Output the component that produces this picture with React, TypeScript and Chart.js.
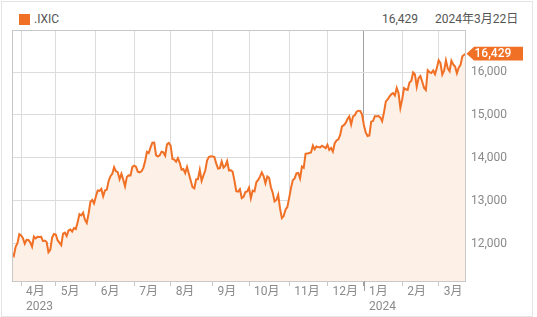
import React, { useEffect, useRef } from "react";
import { Chart, registerables } from "chart.js";

Chart.register(...registerables);

// NASDAQ Composite (.IXIC) daily closes, 2023-03-27 .. 2024-03-22
const mar2023 = [11768.84, 11716.08, 11926.24, 12013.47, 12221.91];
const apr2023 = [12189.45, 12126.33, 11996.86, 12087.96, 12084.35, 12031.88, 11929.34, 12166.27, 12123.47, 12157.72, 12153.41, 12157.23, 12059.56, 12072.46, 12037.2, 11799.16, 11854.35, 12142.24, 12226.58];
const may2023 = [12212.6, 12080.51, 12025.33, 11966.4, 12235.41, 12256.92, 12179.55, 12306.44, 12328.51, 12284.74, 12365.21, 12343.05, 12500.57, 12688.84, 12657.9, 12720.78, 12560.25, 12484.16, 12698.09, 12975.69, 13017.43, 12935.29];
const jun2023 = [13100.98, 13240.77, 13229.43, 13276.42, 13104.9, 13238.52, 13259.14, 13461.92, 13573.32, 13626.48, 13782.82, 13689.57, 13667.29, 13502.2, 13630.61, 13492.52, 13335.78, 13555.67, 13591.75, 13591.33, 13787.92];
const jul2023 = [13816.77, 13791.65, 13679.04, 13660.72, 13685.48, 13760.7, 13918.96, 14138.57, 14113.7, 14244.95, 14353.64, 14358.02, 14063.31, 14032.81, 14058.87, 14144.56, 14127.28, 14050.11, 14316.66, 14346.02];
const aug2023 = [14283.91, 13973.45, 13959.72, 13909.24, 13994.4, 13884.32, 13722.02, 13737.99, 13644.85, 13788.33, 13631.05, 13474.63, 13316.93, 13290.78, 13497.59, 13505.87, 13721.03, 13463.97, 13590.65, 13705.13, 13943.76, 14019.31, 14034.97];
const sep2023 = [14031.81, 14020.95, 13872.47, 13748.83, 13761.53, 13917.89, 13773.61, 13813.59, 13926.05, 13708.34, 13710.24, 13678.19, 13469.13, 13223.98, 13211.81, 13271.32, 13063.61, 13092.85, 13201.28, 13219.32];
const oct2023 = [13307.77, 13059.47, 13236.01, 13219.83, 13431.34, 13484.24, 13562.84, 13659.68, 13574.22, 13407.23, 13567.98, 13533.75, 13314.3, 13186.18, 12983.81, 13018.33, 13139.88, 12821.22, 12595.61, 12643.01, 12789.48, 12851.24];
const nov2023 = [13061.47, 13294.19, 13478.28, 13518.78, 13639.86, 13650.41, 13521.45, 13798.11, 13767.74, 14094.38, 14103.84, 14113.67, 14125.48, 14284.53, 14199.98, 14265.86, 14250.85, 14241.02, 14281.76, 14258.49, 14226.22];
const dec2023 = [14305.03, 14185.49, 14229.91, 14146.71, 14339.99, 14403.97, 14432.49, 14533.4, 14733.96, 14761.56, 14813.92, 14904.81, 14963.87, 14777.94, 14963.87, 14992.97, 15074.57, 15099.18, 15095.14, 15011.35];
const jan2024 = [14765.94, 14592.21, 14510.3, 14524.07, 14843.77, 14857.71, 14969.65, 14970.19, 14972.76, 14944.35, 14855.62, 15055.65, 15310.97, 15360.29, 15425.94, 15481.92, 15510.5, 15455.36, 15628.04, 15509.9, 15164.01];
const feb2024 = [15361.64, 15628.95, 15597.68, 15582.18, 15756.64, 15793.72, 15990.66, 15942.55, 15655.6, 15859.15, 15906.17, 15775.65, 15630.78, 15580.87, 16041.62, 15996.82, 15976.25, 16035.3, 15947.74, 16091.92];
const mar2024 = [16274.94, 16207.51, 15939.59, 16031.54, 16273.38, 16085.11, 16019.27, 16265.64, 16177.77, 16128.53, 15973.17, 16103.45, 16166.79, 16369.41, 16401.84, 16428.82];

const monthSeries = [mar2023, apr2023, may2023, jun2023, jul2023, aug2023, sep2023, oct2023, nov2023, dec2023, jan2024, feb2024, mar2024];
const monthLabels = ["4月", "5月", "6月", "7月", "8月", "9月", "10月", "11月", "12月", "1月", "2月", "3月"];
const yearLabels = ["2023", "", "", "", "", "", "", "", "", "2024", "", ""];
const yTicks = [12000, 13000, 14000, 15000, 16000];
const yMin = 11130;
const yMax = 16980;
const symbol = ".IXIC";
const dateLabel = "2024年3月22日";

const closes: number[] = monthSeries.flat();
const monthStarts: number[] = [];
{
  let acc = 0;
  for (let i = 0; i < monthSeries.length - 1; i++) {
    acc += monthSeries[i].length;
    monthStarts.push(acc);
  }
}
const yearStartIdx = monthStarts[yearLabels.indexOf("2024")];
const lastValue = closes[closes.length - 1];
const fmt = (v: number) => Math.round(v).toLocaleString("en-US");

const ORANGE = "#F07026";
const FILL = "#FDF0E6";
const FONT = "Roboto, 'Noto Sans CJK JP', sans-serif";

export default function App() {
  const ref = useRef<HTMLCanvasElement>(null);
  useEffect(() => {
    const decor = {
      id: "decor",
      afterDraw(chart: any) {
        const { ctx, chartArea, scales } = chart;
        const { left, right, top, bottom } = chartArea;
        ctx.save();
        // frame
        ctx.strokeStyle = "#c8c8c8";
        ctx.lineWidth = 1;
        ctx.strokeRect(left + 0.5, top + 0.5, right - left - 1, bottom - top);
        // year tick
        const xj = Math.round(scales.x.getPixelForValue(yearStartIdx)) + 0.5;
        ctx.strokeStyle = "#a0a0a0";
        ctx.beginPath();
        ctx.moveTo(xj, bottom);
        ctx.lineTo(xj, bottom + 10);
        ctx.stroke();
        // callout
        const y = scales.y.getPixelForValue(lastValue);
        const x = right;
        ctx.fillStyle = ORANGE;
        ctx.beginPath();
        ctx.moveTo(x + 0.5, y);
        ctx.lineTo(x + 8, y - 6.8);
        ctx.lineTo(x + 57, y - 6.8);
        ctx.lineTo(x + 57, y + 6.8);
        ctx.lineTo(x + 8, y + 6.8);
        ctx.closePath();
        ctx.fill();
        ctx.fillStyle = "#ffffff";
        ctx.font = `500 12px ${FONT}`;
        ctx.textAlign = "left";
        ctx.textBaseline = "middle";
        ctx.fillText(fmt(lastValue), x + 8.5, y + 0.5);
        ctx.restore();
      },
    };

    const chart = new Chart(ref.current!, {
      type: "line",
      data: {
        labels: closes.map((_, i) => i),
        datasets: [
          {
            data: closes.map((v, i) => ({ x: i, y: v })),
            borderColor: ORANGE,
            borderWidth: 2,
            backgroundColor: FILL,
            fill: "start",
            pointRadius: 0,
            tension: 0,
          },
        ],
      },
      options: {
        responsive: false,
        animation: false,
        devicePixelRatio: 1,
        layout: { padding: { left: 12, top: 30, right: 0, bottom: 0 } },
        plugins: { legend: { display: false }, tooltip: { enabled: false } },
        scales: {
          x: {
            type: "linear",
            min: 0,
            max: closes.length - 1,
            afterBuildTicks: (s: any) => {
              s.ticks = monthStarts.map((v) => ({ value: v }));
            },
            afterFit: (s: any) => {
              s.height = 36;
            },
            border: { display: false },
            grid: {
              color: (c: any) => (c.tick && c.tick.value === yearStartIdx ? "#a0a0a0" : "#dcdcdc"),
              tickColor: (c: any) => (c.tick && c.tick.value === yearStartIdx ? "#a0a0a0" : "#c8c8c8"),
              tickLength: 5,
              drawTicks: true,
            },
            ticks: {
              autoSkip: false,
              maxRotation: 0,
              align: "start",
              labelOffset: 5,
              padding: -1,
              color: "#8a8a8a",
              font: { family: FONT, size: 12, lineHeight: 1.2 },
              callback: (v: any) => {
                const i = monthStarts.indexOf(Number(v));
                if (i < 0) return "";
                return yearLabels[i] ? [monthLabels[i], yearLabels[i]] : monthLabels[i];
              },
            },
          },
          y: {
            position: "right",
            min: yMin,
            max: yMax,
            afterBuildTicks: (s: any) => {
              s.ticks = yTicks.map((v) => ({ value: v }));
            },
            afterFit: (s: any) => {
              s.width = 71;
            },
            border: { display: false },
            grid: { color: "#dcdcdc", drawTicks: false },
            ticks: {
              padding: 5,
              color: "#8a8a8a",
              font: { family: FONT, size: 12 },
              callback: (v: any) => fmt(Number(v)),
            },
          },
        },
      },
      plugins: [decor],
    } as any);
    return () => chart.destroy();
  }, []);

  return (
    <div style={{ position: "absolute", left: 0, top: 0, width: 537, height: 317, fontFamily: FONT }}>
      <div
        style={{
          position: "absolute",
          left: 1,
          top: 1,
          width: 532,
          height: 316,
          boxSizing: "border-box",
          border: "1px solid #e4e4e4",
        }}
      />
      <div style={{ position: "absolute", left: 19, top: 14, width: 11, height: 11, background: ORANGE }} />
      <div style={{ position: "absolute", left: 34, top: 12, height: 15, lineHeight: "15px", fontSize: 12, color: "#555" }}>
        {symbol}
      </div>
      <div style={{ position: "absolute", left: 382, top: 12, height: 15, lineHeight: "15px", fontSize: 12, color: "#555" }}>
        {fmt(lastValue)}
      </div>
      <div style={{ position: "absolute", left: 435, top: 12, height: 15, lineHeight: "15px", fontSize: 12, color: "#555", whiteSpace: "nowrap" }}>
        {dateLabel}
      </div>
      <canvas ref={ref} width={537} height={317} style={{ position: "absolute", left: 0, top: 0, width: 537, height: 317 }} />
    </div>
  );
}
